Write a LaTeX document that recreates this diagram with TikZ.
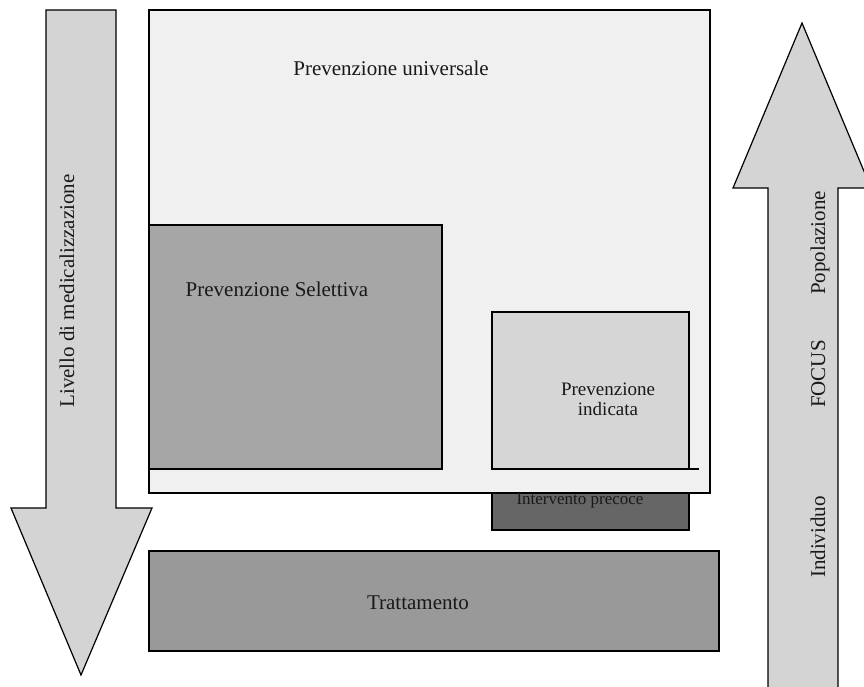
\documentclass[tikz,border=0pt]{standalone}
\usepackage{fontspec}
\setmainfont{Liberation Serif}
\tikzset{
  box/.style={draw=black, line width=1.2pt},
  bigarrow/.style={draw=black, line width=1.2pt, fill=black!17},
  lbl/.style={font=\fontsize{21}{24}\selectfont, text=black!90, inner sep=0pt},
}
\begin{document}
\begin{tikzpicture}[x=1pt,y=1pt]
			%%%%% START %%%%%
			\useasboundingbox (0,0) rectangle (864,-686);
			\fill[white] (0,0) rectangle (864,-686);
			
			\draw[bigarrow] (46,-10) -- (116,-10) -- (116,-508) -- (152,-508) -- (81,-675) -- (11,-508) -- (46,-508) -- cycle;
			\draw[bigarrow] (768,-700) -- (768,-188) -- (733,-188) -- (802,-23) -- (871,-188) -- (838,-188) -- (838,-700) -- cycle;
			
			\draw[box, fill=black!40] (149,-551) rectangle (719,-651);
			\draw[box, fill=black!60] (492,-493) rectangle (689,-530);
			\draw[box, fill=black!6] (149,-10) rectangle (710,-493);
			\draw[box, fill=black!35] (149,-225) rectangle (442,-469);
			\draw[box, fill=black!16] (492,-312) rectangle (689,-469);
			\draw[box] (689,-469) -- (699,-469);
			
			\node[lbl, anchor=base] (universale) at (391,-75) {Prevenzione universale};
			\node[lbl, anchor=base] (selettiva) at (277,-296) {Prevenzione Selettiva};
			\node[lbl, font=\fontsize{19}{20}\selectfont, align=center] (indicata) at (608,-399) {Prevenzione\\indicata};
			\node[lbl, font=\fontsize{17}{20}\selectfont, anchor=base] (precoce) at (580,-504) {Intervento precoce};
			\node[lbl, anchor=base] (trattamento) at (418,-609) {Trattamento};
			
			\node[lbl, rotate=90, anchor=base] (medicalizzazione) at (74,-291) {Livello di medicalizzazione};
			\node[lbl, rotate=90, anchor=base] (popolazione) at (825,-243) {Popolazione};
			\node[lbl, rotate=90, anchor=base] (focus) at (825,-374) {FOCUS};
			\node[lbl, rotate=90, anchor=base] (individuo) at (825,-537) {Individuo};
			
			%%%%% END %%%%%
\end{tikzpicture}
\end{document}
